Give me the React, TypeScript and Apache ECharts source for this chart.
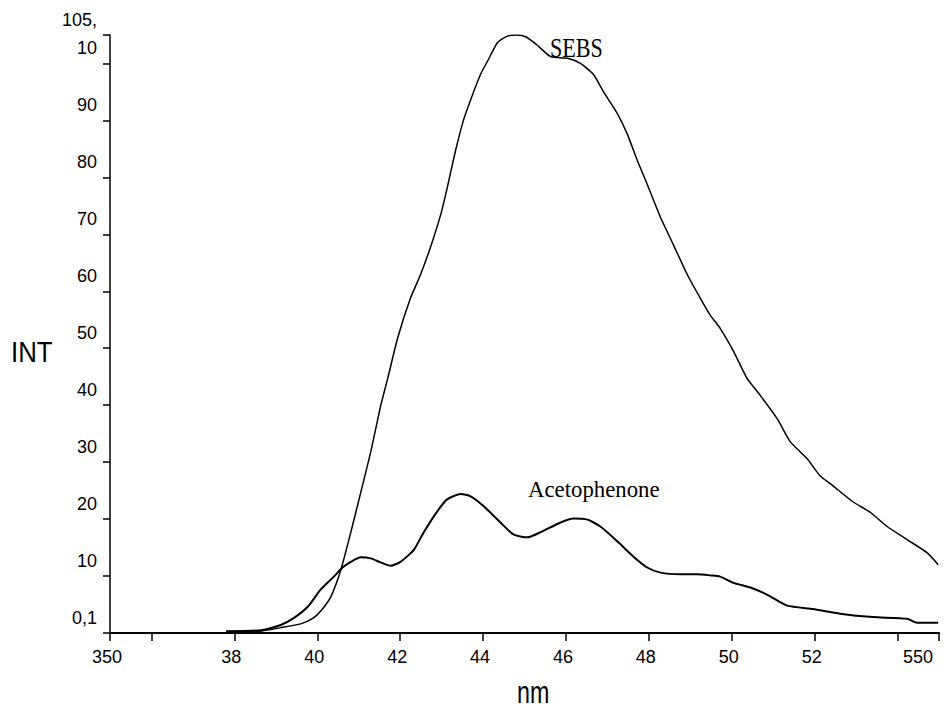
import React, { useEffect, useRef } from "react";
import * as echarts from "echarts";

// SEBS emission spectrum (nm, intensity)
const sebsNm = [378, 386, 391, 396, 399, 401, 403.3, 405.7, 408.1, 410.5, 412.9, 415.3, 417, 419.4, 422.5, 424.9, 427.3, 429.8, 431.4, 433.4, 435.3, 437, 439.4, 441.3, 443.5, 445.9, 448.3, 450.5, 453.1, 456.3, 460.4, 463.5, 466.6, 469, 472.4, 474.8, 477.2, 479.6, 482.8, 485.9, 489.3, 492.4, 494.8, 497.2, 500.4, 503.7, 506.9, 511, 514.1, 518.2, 521.3, 524.5, 529.3, 533.4, 537.5, 542.3, 547.1, 549.8];
const sebsInt = [0.2, 0.3, 0.9, 1.6, 2.6, 4.0, 6.4, 11.1, 17.7, 24.7, 31.8, 39.9, 44.7, 51.8, 58.8, 62.9, 67.7, 73.5, 78.3, 84.8, 90.1, 93.6, 98.1, 100.7, 103.7, 104.8, 105, 104.6, 103.2, 101.2, 100.9, 100.0, 98.1, 95.1, 91.2, 87.6, 83.0, 78.8, 73.0, 68.2, 62.9, 58.8, 55.8, 53.5, 49.5, 44.7, 41.7, 37.6, 33.6, 30.6, 27.6, 25.8, 23.0, 21.2, 18.7, 16.4, 14.1, 12.0];

// Acetophenone emission spectrum (nm, intensity)
const acetoNm = [378, 386.4, 391.2, 394.3, 397.7, 400.8, 404, 406.1, 408.1, 410.5, 412.9, 415.3, 417.7, 420.1, 423.3, 425.7, 429, 431.4, 434.6, 437, 440.1, 444.2, 447.3, 450.7, 453.9, 458.7, 461.8, 465.2, 468.3, 472.4, 476.3, 479.6, 482.8, 487.6, 491.7, 495, 497.2, 500.4, 504.5, 508.6, 513.4, 519.6, 526.1, 534.1, 542.3, 544.7, 549.8];
const acetoInt = [0.3, 0.5, 1.4, 2.6, 4.6, 7.6, 9.9, 11.5, 12.5, 13.3, 13.1, 12.4, 11.8, 12.5, 14.6, 17.7, 21.4, 23.5, 24.4, 24.0, 22.3, 19.4, 17.3, 16.8, 17.7, 19.4, 20.1, 19.9, 18.7, 16.1, 13.4, 11.5, 10.6, 10.3, 10.3, 10.1, 9.9, 8.8, 8.0, 6.7, 4.8, 4.2, 3.4, 2.8, 2.5, 1.8, 1.8];

// Axis ticks and labels
const xTickValues = [350, 360, 380, 400, 420, 440, 460, 480, 500, 520, 540, 550];
const xLabelValues = [350, 380, 400, 420, 440, 460, 480, 500, 520, 550];
const xLabelTexts = ["350", "38", "40", "42", "44", "46", "48", "50", "52", "550"];
const yTickValues = [0, 10, 20, 30, 40, 50, 60, 70, 80, 90, 100, 105];
const yLabelTexts = ["0,1", "10", "20", "30", "40", "50", "60", "70", "80", "90", "10", "105,"];

const SANS = '"Liberation Sans", Arial, sans-serif';
const SERIF = '"Liberation Serif", "Times New Roman", serif';

export default function App() {
  const ref = useRef<HTMLDivElement>(null);

  useEffect(() => {
    if (!ref.current) return;
    const chart = echarts.init(ref.current, undefined, { renderer: "svg" });
    const sebsData = sebsNm.map((x, i) => [x, sebsInt[i]]);
    const acetoData = acetoNm.map((x, i) => [x, acetoInt[i]]);

    chart.setOption({
      animation: false,
      backgroundColor: "#fff",
      grid: { left: 110, right: 10, top: 35, bottom: 77, containLabel: false, outerBoundsMode: "none" },
      xAxis: {
        type: "value",
        min: 350,
        max: 550,
        axisLine: { show: true, lineStyle: { color: "#000", width: 2 } },
        axisTick: {
          show: true,
          customValues: xTickValues,
          length: 8,
          inside: false,
          lineStyle: { color: "#000", width: 1.5 },
        },
        axisLabel: {
          show: true,
          customValues: xLabelValues,
          formatter: (v: number) => {
            const i = xLabelValues.indexOf(v);
            return i >= 0 ? xLabelTexts[i] : "";
          },
          color: "#000",
          fontFamily: SANS,
          fontSize: 18,
          margin: 15,
          padding: [0, 6, 0, 0],
          alignMaxLabel: "right",
        },
        splitLine: { show: false },
      },
      yAxis: {
        type: "value",
        min: 0,
        max: 105,
        axisLine: { show: true, lineStyle: { color: "#000", width: 1.5 } },
        axisTick: {
          show: true,
          customValues: yTickValues,
          length: 7,
          inside: false,
          lineStyle: { color: "#000", width: 1.5 },
        },
        axisLabel: {
          show: true,
          customValues: yTickValues,
          formatter: (v: number) => {
            const i = yTickValues.indexOf(v);
            return i >= 0 ? yLabelTexts[i] : "";
          },
          color: "#000",
          fontFamily: SANS,
          fontSize: 18,
          margin: 13,
          verticalAlign: "bottom",
          padding: [0, 0, 6, 0],
        },
        splitLine: { show: false },
      },
      series: [
        {
          name: "SEBS",
          type: "line",
          data: sebsData,
          showSymbol: false,
          smooth: 0.2,
          lineStyle: { color: "#000", width: 1.5 },
          z: 3,
        },
        {
          name: "Acetophenone",
          type: "line",
          data: acetoData,
          showSymbol: false,
          smooth: 0.2,
          lineStyle: { color: "#000", width: 2 },
          z: 3,
        },
      ],
      graphic: [
        {
          type: "text",
          x: 11,
          y: 352,
          scaleX: 0.89,
          style: { text: "INT", font: `29px ${SANS}`, fill: "#000", align: "left", verticalAlign: "middle", textAlign: "left", textVerticalAlign: "middle" },
        },
        {
          type: "text",
          x: 517,
          y: 692,
          scaleX: 0.75,
          style: { text: "nm", font: `31px ${SANS}`, fill: "#000", align: "left", verticalAlign: "middle", textAlign: "left", textVerticalAlign: "middle" },
        },
        {
          type: "text",
          x: 550,
          y: 48,
          scaleX: 0.82,
          style: { text: "SEBS", font: `27px ${SERIF}`, fill: "#000", align: "left", verticalAlign: "middle", textAlign: "left", textVerticalAlign: "middle" },
        },
        {
          type: "text",
          x: 528,
          y: 489,
          scaleX: 0.95,
          style: { text: "Acetophenone", font: `24px ${SERIF}`, fill: "#000", align: "left", verticalAlign: "middle", textAlign: "left", textVerticalAlign: "middle" },
        },
      ],
    });

    return () => chart.dispose();
  }, []);

  return (
    <div
      ref={ref}
      style={{ position: "fixed", left: 0, top: 0, width: 949, height: 710, background: "#fff" }}
    />
  );
}
